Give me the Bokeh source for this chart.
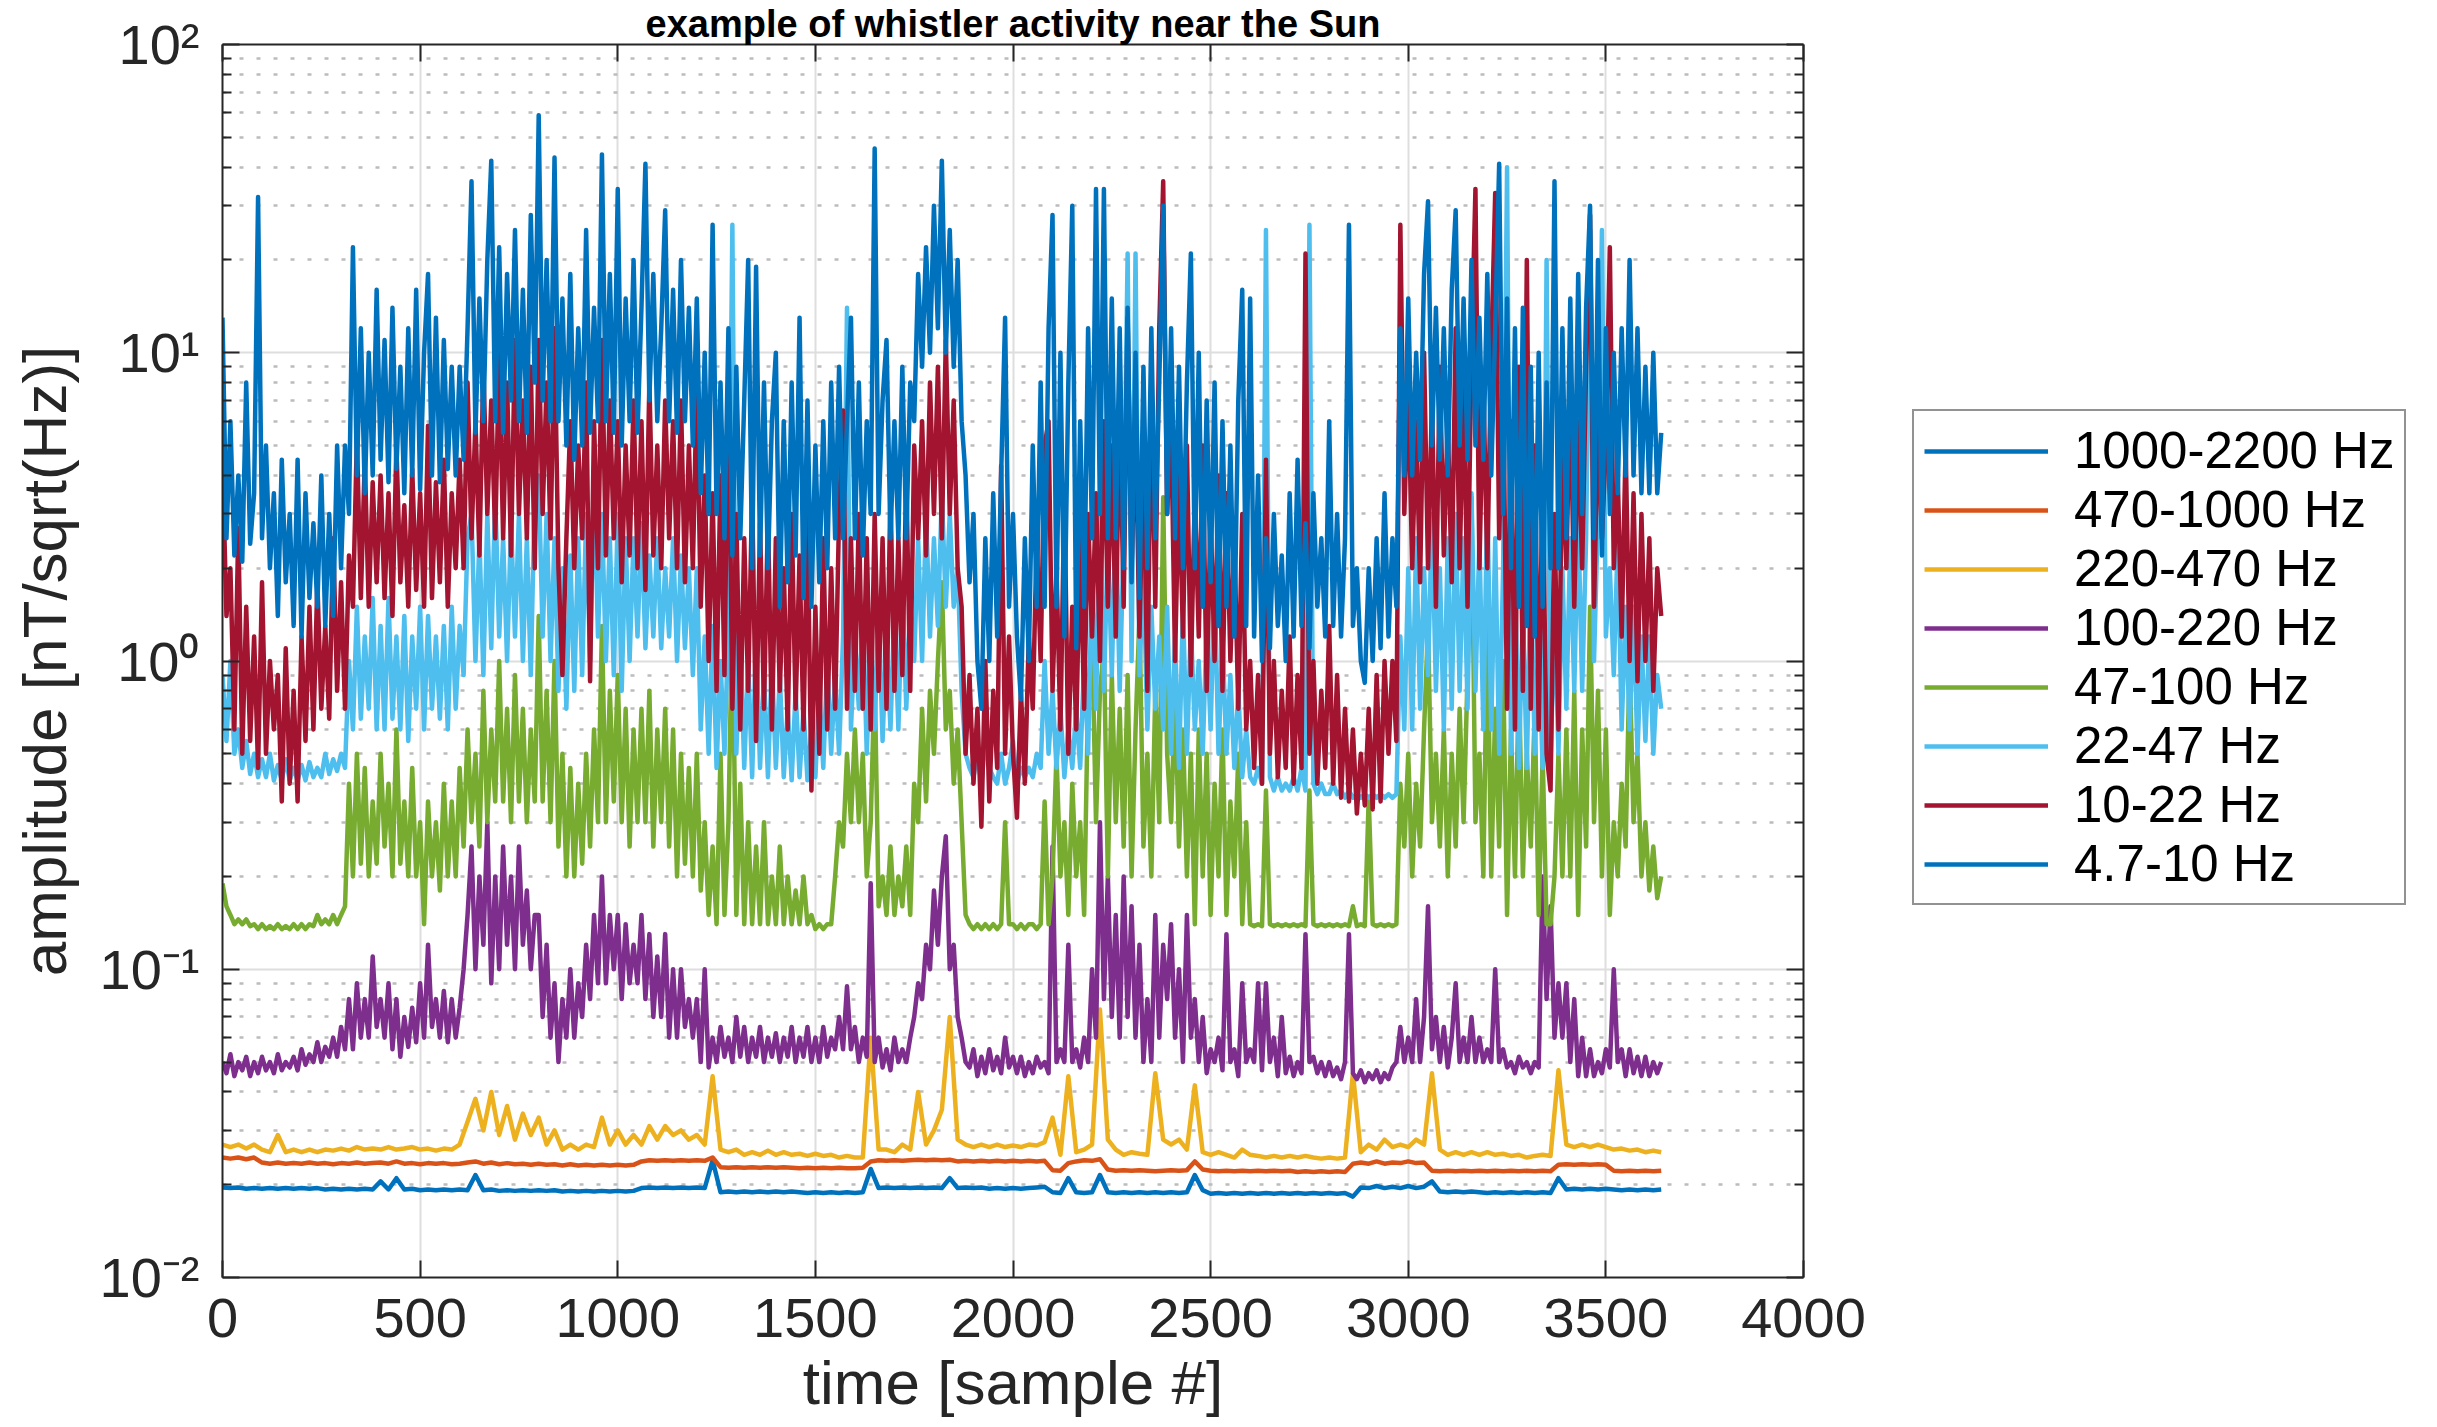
from bokeh.plotting import figure
from bokeh.layouts import row
from bokeh.models import (Range1d, LinearAxis, LogAxis, FixedTicker, Legend,
                          LegendItem, CustomJSTickFormatter)
from bokeh.embed import file_html
from bokeh.resources import INLINE

# ---------------- data ----------------
SAMPLES = list(range(0, 3641, 20))        # time [sample #] for the quiet high bands
SAMPLES_FINE = list(range(0, 3641, 10))   # time [sample #] for the busy low bands

BAND_NAMES = ["1000-2200 Hz", "470-1000 Hz", "220-470 Hz", "100-220 Hz",
              "47-100 Hz", "22-47 Hz", "10-22 Hz", "4.7-10 Hz"]

AMP_1000_2200 = [
    0.0196, 0.0195, 0.0196, 0.0194, 0.0195, 0.0194, 0.0195, 0.0194, 0.0195, 0.0194,
    0.0195, 0.0194, 0.0195, 0.0193, 0.0194, 0.0193, 0.0194, 0.0193, 0.0194, 0.0193,
    0.0205, 0.0193, 0.021, 0.0193, 0.0194, 0.0192, 0.0193, 0.0192, 0.0193, 0.0192,
    0.0193, 0.0192, 0.0215, 0.0192, 0.0193, 0.0191, 0.0192, 0.0191, 0.0192, 0.0191,
    0.0192, 0.0191, 0.0192, 0.019, 0.0191, 0.019, 0.0191, 0.019, 0.0191, 0.019,
    0.0191, 0.019, 0.0191, 0.0195, 0.0196, 0.0195, 0.0196, 0.0195, 0.0196, 0.0195,
    0.0196, 0.0195, 0.024, 0.0189, 0.019, 0.0189, 0.019, 0.0189, 0.019, 0.0189,
    0.019, 0.0189, 0.019, 0.0189, 0.0188, 0.0189, 0.0188, 0.0189, 0.0188, 0.0189,
    0.0188, 0.0189, 0.0225, 0.0195, 0.0196, 0.0195, 0.0196, 0.0195, 0.0196, 0.0195,
    0.0196, 0.0195, 0.021, 0.0195, 0.0196, 0.0195, 0.0196, 0.0194, 0.0195, 0.0194,
    0.0195, 0.0194, 0.0195, 0.0196, 0.0197, 0.0189, 0.0188, 0.021, 0.0189, 0.0188,
    0.0189, 0.0215, 0.0189, 0.0188, 0.0189, 0.0188, 0.0189, 0.0188, 0.0189, 0.0188,
    0.0189, 0.0188, 0.0189, 0.0215, 0.0192, 0.0187, 0.0188, 0.0187, 0.0188, 0.0187,
    0.0188, 0.0187, 0.0188, 0.0187, 0.0188, 0.0187, 0.0188, 0.0187, 0.0188, 0.0187,
    0.0188, 0.0187, 0.0188, 0.0183, 0.0196, 0.0195, 0.0198, 0.0195, 0.0197, 0.0195,
    0.0198, 0.0195, 0.0197, 0.0205, 0.019, 0.0189, 0.019, 0.0189, 0.019, 0.0189,
    0.0188, 0.0189, 0.0188, 0.0189, 0.0188, 0.0189, 0.0188, 0.0189, 0.0188, 0.021,
    0.0193, 0.0194, 0.0193, 0.0194, 0.0193, 0.0194, 0.0193, 0.0192, 0.0193, 0.0192,
    0.0193, 0.0192, 0.0193]

AMP_470_1000 = [
    0.0245, 0.0243, 0.0245, 0.0242, 0.0245, 0.0236, 0.0234, 0.0236, 0.0234, 0.0235,
    0.0234, 0.0236, 0.0234, 0.0235, 0.0233, 0.0235, 0.0234, 0.0236, 0.0234, 0.0235,
    0.0236, 0.0234, 0.0238, 0.0234, 0.0235, 0.0233, 0.0235, 0.0234, 0.0235, 0.0233,
    0.0234, 0.0236, 0.0238, 0.0234, 0.0236, 0.0233, 0.0235, 0.0233, 0.0234, 0.0232,
    0.0234, 0.0232, 0.0233, 0.0231, 0.0233, 0.0231, 0.0232, 0.0231, 0.0232, 0.0231,
    0.0232, 0.0231, 0.0232, 0.0238, 0.024, 0.0239, 0.024, 0.0239, 0.024, 0.0239,
    0.024, 0.0239, 0.0245, 0.0228, 0.0227, 0.0228, 0.0227, 0.0228, 0.0227, 0.0228,
    0.0227, 0.0228, 0.0227, 0.0226, 0.0227, 0.0226, 0.0227, 0.0226, 0.0227, 0.0226,
    0.0226, 0.0227, 0.0238, 0.024, 0.0239, 0.024, 0.0239, 0.024, 0.0241, 0.024,
    0.0241, 0.024, 0.0241, 0.0238, 0.0239, 0.0238, 0.0239, 0.0238, 0.0239, 0.0238,
    0.0239, 0.0238, 0.0239, 0.0238, 0.0239, 0.0223, 0.0222, 0.0235, 0.0238, 0.024,
    0.0239, 0.0242, 0.0224, 0.0222, 0.0223, 0.0222, 0.0223, 0.0222, 0.0221, 0.0222,
    0.0223, 0.0222, 0.0223, 0.0238, 0.0224, 0.0222, 0.0221, 0.0222, 0.0221, 0.0222,
    0.0221, 0.0222, 0.0221, 0.0222, 0.0221, 0.0222, 0.022, 0.0221, 0.022, 0.0221,
    0.022, 0.0221, 0.022, 0.0234, 0.0236, 0.0234, 0.0238, 0.0234, 0.0236, 0.0235,
    0.0238, 0.0235, 0.0236, 0.0222, 0.0221, 0.0222, 0.0221, 0.0222, 0.0221, 0.0222,
    0.0221, 0.0222, 0.0221, 0.0222, 0.0221, 0.0222, 0.0221, 0.0222, 0.0221, 0.0232,
    0.0233, 0.0232, 0.0233, 0.0232, 0.0233, 0.0232, 0.0222, 0.0221, 0.0222, 0.0221,
    0.0222, 0.0221, 0.0222]

AMP_220_470 = [
    0.027, 0.0265, 0.027, 0.0262, 0.027, 0.026, 0.0255, 0.029, 0.0255, 0.026,
    0.0255, 0.026, 0.0255, 0.026, 0.0258, 0.0262, 0.0258, 0.0265, 0.026, 0.0262,
    0.026, 0.0265, 0.026, 0.0262, 0.0265, 0.026, 0.0262, 0.0258, 0.0262, 0.026,
    0.027, 0.032, 0.038, 0.03, 0.04, 0.029, 0.036, 0.028, 0.034, 0.029,
    0.033, 0.027, 0.03, 0.026, 0.027, 0.026, 0.027, 0.0265, 0.033, 0.027,
    0.03, 0.027, 0.029, 0.027, 0.031, 0.028, 0.031, 0.029, 0.03, 0.028,
    0.029, 0.027, 0.045, 0.026, 0.0255, 0.026, 0.025, 0.0255, 0.025, 0.0258,
    0.025, 0.0255, 0.025, 0.0252, 0.0248, 0.0252, 0.0248, 0.025, 0.0245, 0.0248,
    0.0245, 0.0245, 0.06, 0.026, 0.026, 0.0255, 0.027, 0.026, 0.04, 0.027,
    0.03, 0.035, 0.07, 0.028, 0.027, 0.0265, 0.027, 0.0265, 0.027, 0.0265,
    0.0268, 0.0265, 0.027, 0.0268, 0.0275, 0.033, 0.025, 0.045, 0.0255, 0.026,
    0.027, 0.074, 0.028, 0.026, 0.025, 0.0255, 0.0252, 0.025, 0.046, 0.028,
    0.027, 0.028, 0.026, 0.042, 0.0255, 0.025, 0.0255, 0.025, 0.0245, 0.026,
    0.025, 0.0248, 0.0245, 0.0248, 0.0245, 0.0248, 0.0245, 0.0248, 0.0245, 0.0243,
    0.0245, 0.0243, 0.0245, 0.046, 0.0255, 0.027, 0.026, 0.028, 0.0265, 0.027,
    0.0265, 0.028, 0.027, 0.046, 0.026, 0.025, 0.0255, 0.025, 0.0255, 0.025,
    0.0255, 0.025, 0.0252, 0.0248, 0.025, 0.0245, 0.0248, 0.025, 0.0248, 0.047,
    0.027, 0.0265, 0.027, 0.0265, 0.027, 0.0265, 0.026, 0.0262, 0.0258, 0.026,
    0.0255, 0.0258, 0.0255]

AMP_100_220 = [
    0.05, 0.046, 0.053, 0.045, 0.05, 0.047, 0.052, 0.045, 0.05, 0.046, 0.052, 0.047, 0.05, 0.046, 0.053, 0.047, 0.05, 0.048, 0.052, 0.047,
    0.055, 0.049, 0.053, 0.05, 0.058, 0.05, 0.056, 0.052, 0.06, 0.052, 0.065, 0.055, 0.08, 0.055, 0.09, 0.06, 0.08, 0.06, 0.11, 0.065,
    0.08, 0.06, 0.09, 0.055, 0.08, 0.052, 0.07, 0.056, 0.075, 0.058, 0.09, 0.06, 0.12, 0.065, 0.08, 0.06, 0.085, 0.058, 0.08, 0.06,
    0.075, 0.1, 0.15, 0.25, 0.1, 0.2, 0.12, 0.3, 0.09, 0.2, 0.1, 0.25, 0.12, 0.2, 0.1, 0.25, 0.12, 0.18, 0.1, 0.15,
    0.15, 0.07, 0.12, 0.06, 0.09, 0.05, 0.08, 0.06, 0.1, 0.06, 0.09, 0.07, 0.12, 0.08, 0.15, 0.09, 0.2, 0.09, 0.15, 0.1,
    0.15, 0.08, 0.14, 0.09, 0.12, 0.09, 0.15, 0.08, 0.13, 0.07, 0.11, 0.07, 0.13, 0.06, 0.1, 0.06, 0.1, 0.065, 0.08, 0.06,
    0.08, 0.05, 0.1, 0.048, 0.06, 0.05, 0.065, 0.052, 0.06, 0.05, 0.07, 0.052, 0.065, 0.05, 0.06, 0.052, 0.065, 0.05, 0.06, 0.052,
    0.062, 0.05, 0.06, 0.052, 0.065, 0.05, 0.06, 0.052, 0.065, 0.05, 0.06, 0.05, 0.065, 0.052, 0.06, 0.055, 0.07, 0.055, 0.088, 0.055,
    0.065, 0.05, 0.06, 0.052, 0.19, 0.05, 0.06, 0.048, 0.055, 0.047, 0.06, 0.05, 0.055, 0.05, 0.06, 0.07, 0.09, 0.08, 0.12, 0.1,
    0.18, 0.12, 0.2, 0.27, 0.1, 0.12, 0.07, 0.06, 0.05, 0.048, 0.055, 0.045, 0.052, 0.046, 0.055, 0.047, 0.052, 0.046, 0.06, 0.048,
    0.052, 0.046, 0.052, 0.045, 0.05, 0.046, 0.052, 0.048, 0.05, 0.046, 0.25, 0.05, 0.055, 0.05, 0.12, 0.05, 0.055, 0.048, 0.06, 0.05,
    0.1, 0.06, 0.3, 0.08, 0.2, 0.07, 0.15, 0.06, 0.2, 0.07, 0.16, 0.06, 0.12, 0.05, 0.08, 0.05, 0.15, 0.06, 0.12, 0.08,
    0.14, 0.06, 0.1, 0.05, 0.15, 0.06, 0.08, 0.05, 0.07, 0.046, 0.055, 0.05, 0.06, 0.047, 0.13, 0.05, 0.055, 0.045, 0.09, 0.05,
    0.055, 0.05, 0.09, 0.047, 0.09, 0.05, 0.06, 0.045, 0.07, 0.046, 0.052, 0.045, 0.05, 0.046, 0.13, 0.05, 0.052, 0.046, 0.05, 0.045,
    0.05, 0.045, 0.048, 0.044, 0.05, 0.13, 0.046, 0.044, 0.047, 0.043, 0.046, 0.044, 0.047, 0.043, 0.046, 0.044, 0.048, 0.05, 0.065, 0.05,
    0.06, 0.05, 0.08, 0.05, 0.07, 0.16, 0.055, 0.07, 0.05, 0.065, 0.048, 0.06, 0.09, 0.05, 0.06, 0.05, 0.07, 0.05, 0.06, 0.05,
    0.055, 0.05, 0.1, 0.05, 0.055, 0.048, 0.05, 0.046, 0.052, 0.048, 0.05, 0.046, 0.05, 0.048, 0.2, 0.08, 0.16, 0.06, 0.09, 0.06,
    0.09, 0.05, 0.08, 0.045, 0.06, 0.045, 0.055, 0.045, 0.05, 0.046, 0.055, 0.048, 0.1, 0.05, 0.055, 0.045, 0.055, 0.046, 0.052, 0.045,
    0.052, 0.045, 0.05, 0.046, 0.05]

AMP_47_100 = [
    0.19, 0.16, 0.15, 0.14, 0.145, 0.14, 0.145, 0.138, 0.14, 0.135, 0.14, 0.135, 0.138, 0.135, 0.14, 0.135, 0.138, 0.135, 0.14, 0.135,
    0.14, 0.135, 0.14, 0.138, 0.15, 0.14, 0.145, 0.14, 0.15, 0.14, 0.15, 0.16, 0.4, 0.2, 0.5, 0.22, 0.45, 0.2, 0.35, 0.22,
    0.5, 0.25, 0.4, 0.2, 0.6, 0.22, 0.35, 0.2, 0.45, 0.2, 0.3, 0.14, 0.35, 0.2, 0.3, 0.18, 0.4, 0.2, 0.35, 0.2,
    0.45, 0.25, 0.6, 0.3, 0.5, 0.25, 0.8, 0.3, 0.6, 0.35, 1.0, 0.35, 0.7, 0.3, 0.9, 0.35, 0.7, 0.3, 0.6, 0.35,
    1.4, 0.35, 0.8, 0.3, 1.0, 0.25, 0.5, 0.2, 0.45, 0.2, 0.4, 0.22, 0.5, 0.25, 0.6, 0.3, 1.3, 0.3, 0.8, 0.35,
    0.9, 0.3, 0.7, 0.25, 0.6, 0.3, 0.7, 0.3, 0.8, 0.25, 0.6, 0.3, 0.7, 0.25, 0.6, 0.2, 0.5, 0.22, 0.45, 0.2,
    0.5, 0.18, 0.3, 0.15, 0.25, 0.14, 0.5, 0.15, 0.3, 1.5, 0.15, 0.4, 0.14, 0.3, 0.14, 0.25, 0.14, 0.3, 0.14, 0.2,
    0.14, 0.25, 0.14, 0.2, 0.14, 0.18, 0.14, 0.2, 0.14, 0.15, 0.135, 0.14, 0.135, 0.14, 0.14, 0.2, 0.3, 0.25, 0.5, 0.3,
    0.6, 0.3, 0.5, 0.2, 0.3, 0.9, 0.16, 0.2, 0.15, 0.25, 0.15, 0.2, 0.16, 0.25, 0.15, 0.4, 0.3, 0.7, 0.35, 0.8,
    0.5, 1.0, 1.8, 0.6, 0.8, 0.4, 0.6, 0.3, 0.15, 0.14, 0.135, 0.14, 0.135, 0.14, 0.135, 0.14, 0.135, 0.14, 0.3, 0.14,
    0.14, 0.135, 0.14, 0.135, 0.14, 0.14, 0.135, 0.14, 0.35, 0.14, 0.2, 0.5, 0.2, 0.3, 0.15, 0.4, 0.2, 0.3, 0.15, 0.8,
    1.2, 0.3, 0.8, 1.1, 0.2, 0.9, 0.3, 0.7, 0.25, 0.9, 0.2, 0.6, 1.4, 0.25, 0.5, 0.2, 0.8, 0.3, 3.4, 0.5,
    0.3, 0.8, 0.25, 0.6, 0.2, 0.5, 0.14, 0.6, 0.2, 0.5, 0.15, 0.4, 0.2, 0.6, 0.15, 0.35, 0.2, 0.5, 0.14, 0.3,
    0.14, 0.138, 0.14, 0.138, 0.38, 0.14, 0.138, 0.14, 0.138, 0.14, 0.138, 0.14, 0.138, 0.14, 0.138, 0.38, 0.14, 0.138, 0.14, 0.138,
    0.14, 0.138, 0.14, 0.138, 0.14, 0.138, 0.16, 0.138, 0.14, 0.138, 0.36, 0.14, 0.138, 0.14, 0.138, 0.14, 0.138, 0.14, 0.4, 0.25,
    0.5, 0.2, 0.4, 0.25, 0.6, 1.3, 0.3, 0.5, 0.25, 0.6, 0.2, 0.5, 0.25, 0.7, 0.3, 0.9, 3.4, 0.3, 0.5, 0.2,
    1.4, 0.2, 0.7, 0.25, 1.0, 0.15, 0.6, 0.2, 0.9, 0.2, 0.5, 0.25, 0.7, 0.15, 0.5, 0.14, 0.14, 0.2, 0.5, 0.2,
    0.6, 0.2, 0.8, 0.15, 0.6, 0.25, 1.5, 0.3, 0.8, 0.2, 0.6, 0.15, 0.3, 0.2, 0.4, 0.25, 1.0, 0.3, 0.5, 0.2,
    0.3, 0.18, 0.25, 0.17, 0.2]

AMP_22_47 = [
    0.9, 0.55, 1.0, 0.5, 0.6, 0.45, 0.55, 0.43, 0.5, 0.42, 0.48, 0.42, 0.5, 0.41, 0.46, 0.41, 0.48, 0.41, 0.45, 0.41,
    0.46, 0.41, 0.47, 0.42, 0.45, 0.42, 0.5, 0.43, 0.48, 0.44, 0.5, 0.45, 1.0, 0.6, 1.5, 0.65, 1.2, 0.7, 1.6, 0.6,
    1.3, 0.6, 1.6, 0.65, 1.2, 0.6, 1.4, 0.55, 1.2, 0.7, 1.5, 0.6, 1.4, 0.7, 1.2, 0.65, 1.3, 0.6, 1.5, 0.7,
    1.3, 0.9, 2.5, 3.0, 1.0, 2.5, 0.9, 3.0, 1.1, 3.5, 1.2, 2.5, 1.0, 2.8, 1.2, 3.0, 1.0, 2.5, 0.9, 3.5,
    4.0, 1.2, 3.0, 1.0, 2.5, 0.8, 2.0, 0.7, 2.2, 0.8, 2.5, 0.9, 3.0, 1.0, 4.0, 1.2, 3.0, 1.0, 2.5, 0.9,
    3.0, 0.8, 2.5, 1.0, 2.5, 1.2, 2.8, 1.1, 2.2, 1.2, 2.5, 1.1, 2.0, 1.2, 2.5, 1.0, 2.2, 1.1, 2.0, 0.9,
    2.0, 0.6, 1.2, 0.5, 1.3, 0.45, 1.0, 0.5, 1.3, 26, 0.5, 1.2, 0.45, 1.0, 0.42, 1.2, 0.45, 0.9, 0.42, 1.0,
    0.45, 0.9, 0.42, 0.7, 0.41, 0.8, 0.42, 0.7, 0.41, 0.6, 0.42, 0.8, 0.45, 1.0, 0.5, 0.9, 0.5, 1.2, 14, 0.6,
    1.2, 0.7, 1.5, 0.5, 1.2, 0.6, 1.5, 0.55, 1.2, 0.6, 1.5, 0.6, 1.8, 0.7, 1.5, 1.0, 2.5, 1.0, 3.0, 1.2,
    2.5, 1.3, 3.5, 1.5, 3.0, 1.5, 2.0, 0.8, 0.5, 0.45, 0.42, 0.5, 0.4, 0.55, 0.45, 0.42, 0.4, 0.5, 0.4, 0.45,
    0.55, 0.4, 0.45, 0.42, 0.45, 0.42, 0.5, 0.45, 1.0, 0.5, 0.8, 0.45, 0.7, 0.42, 0.6, 0.45, 0.7, 0.45, 1.0, 0.5,
    2.0, 0.7, 3.0, 0.8, 2.5, 0.9, 3.0, 0.8, 2.5, 21, 1.0, 21, 0.9, 2.0, 0.6, 1.5, 0.7, 1.2, 0.6, 1.5,
    0.5, 1.2, 0.45, 1.5, 0.5, 1.3, 0.6, 1.0, 0.5, 1.3, 0.6, 1.8, 0.5, 1.2, 0.5, 0.9, 0.45, 0.8, 0.42, 0.6,
    0.42, 0.4, 0.45, 0.4, 25, 0.42, 0.38, 0.42, 0.38, 0.4, 0.38, 0.42, 0.38, 0.45, 0.38, 26, 0.4, 0.37, 0.4, 0.37,
    0.37, 0.4, 0.37, 0.38, 0.36, 0.38, 0.36, 0.37, 0.36, 0.37, 0.36, 0.37, 0.36, 0.37, 0.36, 0.37, 0.36, 0.37, 1.2, 0.6,
    2.0, 0.6, 2.5, 0.7, 2.0, 0.9, 3.0, 0.8, 2.0, 0.6, 2.5, 0.7, 3.0, 0.8, 2.5, 0.7, 3.5, 0.8, 2.5, 0.6,
    3.5, 0.6, 2.5, 0.5, 2.0, 40, 0.5, 2.0, 0.45, 1.5, 0.45, 2.0, 0.5, 1.2, 0.45, 20, 0.45, 1.5, 0.5, 2.0,
    0.7, 2.5, 0.8, 3.0, 0.8, 2.5, 25, 1.0, 3.0, 25, 1.2, 2.0, 0.9, 2.5, 0.6, 1.5, 0.6, 1.5, 0.5, 1.2,
    0.55, 1.2, 0.5, 0.9, 0.7]

AMP_10_22 = [
    4.5, 1.4, 2.0, 0.6, 2.7, 0.5, 1.5, 0.55, 1.2, 0.45, 1.8, 0.5, 1.0, 0.6, 0.9, 0.35, 1.1, 0.4, 0.8, 0.35,
    1.2, 0.55, 1.5, 0.6, 1.8, 0.7, 1.3, 0.65, 2.5, 0.8, 1.8, 0.7, 2.2, 1.5, 5.3, 1.6, 4.5, 1.5, 3.8, 1.8,
    4.0, 1.6, 3.5, 1.4, 5.0, 1.8, 3.2, 1.5, 4.2, 1.7, 3.5, 1.5, 5.8, 1.6, 3.8, 1.8, 4.5, 1.5, 3.5, 2.0,
    4.5, 2.0, 8.0, 2.5, 6.0, 2.2, 9.0, 3.0, 7.0, 2.5, 10, 2.5, 8.0, 2.2, 11, 3.0, 7.0, 2.5, 9.0, 2.0,
    11, 3.0, 8.0, 2.5, 12, 2.0, 0.9, 2.5, 6.0, 2.0, 5.0, 2.5, 8.0, 0.86, 6.0, 2.0, 11, 2.2, 7.0, 2.5,
    6.0, 1.8, 5.0, 2.2, 7.0, 2.0, 6.0, 1.7, 8.0, 2.2, 5.0, 2.0, 7.0, 2.5, 6.0, 2.0, 7.0, 1.8, 5.0, 2.0,
    8.0, 1.5, 4.0, 1.0, 3.5, 0.8, 4.0, 0.9, 9.0, 0.7, 3.0, 0.6, 2.5, 0.8, 3.5, 0.55, 2.8, 0.7, 3.0, 0.6,
    2.5, 0.8, 2.0, 0.6, 3.0, 0.7, 2.2, 0.6, 3.0, 0.38, 1.5, 0.5, 2.5, 0.6, 2.0, 0.7, 3.0, 6.5, 0.7, 2.5,
    0.8, 3.0, 0.7, 2.5, 0.6, 3.0, 0.8, 2.5, 0.7, 3.5, 0.8, 2.5, 0.9, 4.0, 0.8, 5.0, 2.5, 6.0, 2.2, 8.0,
    3.0, 9.0, 2.5, 11, 3.0, 7.0, 2.0, 1.5, 0.5, 0.9, 0.4, 0.7, 0.29, 1.0, 0.35, 0.8, 0.45, 4.3, 0.5, 1.2,
    0.5, 0.31, 0.8, 0.4, 1.2, 0.7, 2.5, 1.0, 5.0, 6.0, 0.8, 2.0, 0.6, 3.5, 0.5, 1.5, 0.6, 2.5, 0.7, 3.0,
    1.2, 3.5, 1.0, 6.0, 1.5, 5.0, 1.2, 7.0, 1.5, 13, 2.0, 6.0, 1.2, 5.0, 0.8, 8.0, 1.5, 12, 36, 3.0,
    6.0, 1.0, 4.0, 1.2, 5.0, 0.9, 3.5, 1.2, 5.0, 0.8, 3.0, 1.0, 4.0, 0.8, 3.5, 1.0, 2.5, 0.7, 3.0, 0.6,
    1.0, 0.45, 0.9, 0.4, 4.5, 0.5, 1.0, 0.42, 0.8, 0.45, 1.2, 0.4, 0.9, 0.45, 21, 0.5, 1.0, 0.4, 0.8, 0.45,
    1.3, 0.4, 0.9, 0.36, 0.7, 0.35, 0.6, 0.32, 0.5, 0.34, 0.7, 0.33, 0.9, 0.35, 1.0, 0.5, 1.0, 0.55, 26, 3.0,
    8.0, 2.0, 6.0, 1.8, 10, 2.0, 7.0, 1.5, 9.0, 2.2, 6.0, 1.8, 12, 2.0, 8.0, 1.5, 10, 34, 2.0, 8.0,
    2.0, 10, 33, 2.5, 8.0, 0.7, 6.0, 0.6, 9.0, 0.8, 20, 0.7, 5.0, 0.6, 4.0, 0.5, 0.38, 3.0, 0.6, 5.0,
    2.0, 8.0, 1.5, 6.0, 2.0, 9.0, 28, 1.5, 6.0, 2.5, 5.0, 22, 2.0, 4.0, 1.2, 5.0, 1.0, 3.5, 0.86, 3.0,
    1.0, 2.5, 0.8, 2.0, 1.4]

AMP_4_7_10 = [
    13, 2.5, 6.0, 2.2, 4.0, 2.1, 8.0, 2.4, 3.5, 32, 2.5, 5.0, 2.0, 3.5, 1.4, 4.5, 1.8, 3.0, 1.3, 4.5,
    1.2, 3.5, 1.6, 2.8, 1.5, 4.0, 1.3, 3.0, 1.4, 5.0, 2.0, 5.0, 3.0, 22, 4.0, 12, 3.5, 10, 4.0, 16,
    4.5, 11, 3.8, 14, 4.2, 9.0, 3.5, 12, 4.0, 16, 3.6, 10, 18, 4.0, 13, 3.8, 11, 4.2, 9.0, 4.0,
    9.0, 4.5, 12, 36, 5.5, 15, 6.0, 20, 42, 6.0, 22, 5.5, 18, 7.0, 25, 6.0, 16, 5.5, 28, 8.0,
    59, 7.0, 20, 6.0, 43, 6.0, 15, 5.0, 18, 4.5, 12, 5.0, 25, 5.5, 14, 6.0, 44, 6.0, 18, 5.5,
    34, 5.0, 15, 6.0, 20, 5.5, 14, 41, 7.0, 18, 6.0, 12, 29, 6.0, 16, 5.5, 20, 6.0, 14, 5.0,
    15, 3.5, 10, 3.0, 26, 3.0, 8.0, 2.5, 12, 2.2, 9.0, 2.5, 7.0, 20, 2.0, 19, 2.2, 8.0, 2.0, 6.0,
    10, 1.5, 6.0, 1.8, 8.0, 2.2, 13, 1.6, 7.0, 1.5, 5.0, 1.8, 6.0, 2.0, 8.0, 2.5, 9.0, 2.5, 6.0, 13,
    2.5, 8.0, 2.2, 6.0, 3.0, 46, 3.0, 7.0, 11, 2.5, 6.0, 2.5, 9.0, 2.5, 8.0, 6.0, 18, 9.0, 22, 10,
    30, 12, 42, 10, 25, 9.0, 20, 6.0, 4.0, 1.8, 3.0, 1.0, 0.7, 2.5, 1.0, 3.5, 1.2, 4.0, 13, 1.5,
    3.0, 1.2, 0.75, 2.5, 1.0, 5.0, 1.5, 8.0, 1.5, 12, 28, 1.5, 10, 1.2, 8.0, 30, 1.1, 6.0, 1.5, 12,
    2.5, 34, 3.0, 34, 2.5, 15, 2.5, 12, 2.0, 14, 1.8, 10, 1.6, 9.0, 2.0, 12, 2.5, 8.0, 30, 3.0,
    12, 2.5, 9.0, 2.0, 8.0, 21, 2.0, 10, 1.5, 7.0, 1.8, 8.0, 1.3, 6.0, 1.5, 5.0, 1.2, 7.0, 16, 1.3,
    15, 1.2, 4.0, 1.0, 2.5, 1.1, 3.0, 1.3, 2.2, 1.0, 3.5, 1.2, 4.5, 1.3, 2.8, 1.1, 3.5, 1.5, 2.5, 1.2,
    6.0, 1.3, 3.0, 1.2, 2.5, 26, 1.3, 2.0, 1.0, 0.85, 2.0, 1.0, 2.5, 1.1, 3.5, 1.2, 2.5, 1.5, 12, 4.0,
    15, 4.0, 10, 4.5, 18, 31, 5.0, 14, 4.5, 12, 4.0, 16, 29, 5.0, 15, 4.5, 20, 5.0, 13, 4.5,
    18, 4.0, 12, 41, 3.0, 15, 2.0, 12, 1.5, 14, 1.3, 9.0, 1.2, 10, 1.5, 8.0, 2.0, 36, 2.0, 12,
    2.5, 15, 2.5, 18, 3.0, 14, 30, 2.5, 20, 2.2, 12, 3.0, 10, 3.5, 12, 4.0, 20, 4.0, 12, 3.5,
    9.0, 3.5, 10, 3.5, 5.5]

SERIES_X = [SAMPLES, SAMPLES, SAMPLES, SAMPLES_FINE,
            SAMPLES_FINE, SAMPLES_FINE, SAMPLES_FINE, SAMPLES_FINE]
SERIES = [AMP_1000_2200, AMP_470_1000, AMP_220_470, AMP_100_220,
          AMP_47_100, AMP_22_47, AMP_10_22, AMP_4_7_10]
COLORS = ["#0072BD", "#D95319", "#EDB120", "#7E2F8E",
          "#77AC30", "#4DBEEE", "#A2142F", "#0072BD"]

X_TICKS = [0, 500, 1000, 1500, 2000, 2500, 3000, 3500, 4000]
Y_TICKS = [0.01, 0.1, 1, 10, 100]
Y_TICK_LABELS = ["10\u207b\u00b2", "10\u207b\u00b9", "10\u2070", "10\u00b9", "10\u00b2"]

TITLE = "example of whistler activity near the Sun"
X_LABEL = "time [sample #]"
Y_LABEL = "amplitude [nT/sqrt(Hz)]"

# ---------------- layout ----------------
FONT = "Liberation Sans"
AX = "#262626"
TOTAL_W, TOTAL_H = 2437, 1427
MAIN_W = 1880                 # main plot canvas (frame spans 222 .. 1803)
SIDE_W = TOTAL_W - MAIN_W     # canvas that carries the legend
LINE_W = 4.5

p = figure(width=MAIN_W, height=TOTAL_H, output_backend="svg", toolbar_location=None,
           x_range=Range1d(0, 4000), y_range=Range1d(0.01, 100), y_axis_type="log",
           min_border_left=222, min_border_right=MAIN_W - 1803,
           min_border_top=44, min_border_bottom=150,
           background_fill_color="white", border_fill_color="white")
p.outline_line_color = None

p.title.text = TITLE
p.title.text_font = FONT
p.title.text_font_size = "38px"
p.title.text_font_style = "bold"
p.title.text_color = "black"
p.title.align = "center"
p.title.standoff = 0

minor = [k * 10.0 ** e for e in range(-2, 2) for k in range(2, 10)]
xt = FixedTicker(ticks=X_TICKS)
yt = FixedTicker(ticks=Y_TICKS, minor_ticks=minor)
blank = CustomJSTickFormatter(code="return ''")
ylab = CustomJSTickFormatter(args=dict(tvals=Y_TICKS, tlabels=Y_TICK_LABELS), code="""
    let best = 0;
    for (let i = 0; i < tvals.length; i++) {
        if (Math.abs(Math.log10(tvals[i]) - Math.log10(tick)) <
            Math.abs(Math.log10(tvals[best]) - Math.log10(tick))) { best = i; }
    }
    return tlabels[best];
""")

xa = p.xaxis[0]
xa.ticker = xt
xa.major_label_text_font = FONT
xa.major_label_text_font_size = "56px"
xa.major_label_text_color = AX
xa.major_label_standoff = 21
xa.major_tick_in = 17
xa.major_tick_out = 0
xa.minor_tick_line_color = None
xa.axis_line_color = AX
xa.axis_line_width = 2
xa.major_tick_line_color = AX
xa.major_tick_line_width = 2
xa.axis_label = X_LABEL
xa.axis_label_text_font = FONT
xa.axis_label_text_font_size = "62px"
xa.axis_label_text_font_style = "normal"
xa.axis_label_text_color = AX
xa.axis_label_standoff = 8

ya = p.yaxis[0]
ya.ticker = yt
ya.formatter = ylab
ya.major_label_text_font = FONT
ya.major_label_text_font_size = "56px"
ya.major_label_text_color = AX
ya.major_label_standoff = 23
ya.major_tick_in = 17
ya.major_tick_out = 0
ya.minor_tick_in = 9
ya.minor_tick_out = 0
ya.axis_line_color = AX
ya.axis_line_width = 2
ya.major_tick_line_color = AX
ya.major_tick_line_width = 2
ya.minor_tick_line_color = AX
ya.minor_tick_line_width = 2
ya.axis_label = Y_LABEL
ya.axis_label_text_font = FONT
ya.axis_label_text_font_size = "62px"
ya.axis_label_text_font_style = "normal"
ya.axis_label_text_color = AX
ya.axis_label_standoff = 18

top_axis = LinearAxis(ticker=xt, formatter=blank, major_label_text_font_size="1px",
                      major_label_standoff=0, major_tick_in=17, major_tick_out=0,
                      minor_tick_line_color=None, axis_line_color=AX, axis_line_width=2,
                      major_tick_line_color=AX, major_tick_line_width=2)
p.add_layout(top_axis, "above")
right_axis = LogAxis(ticker=yt, formatter=blank, major_label_text_font_size="1px",
                     major_label_standoff=0, major_tick_in=17, major_tick_out=0,
                     minor_tick_in=9, minor_tick_out=0, axis_line_color=AX,
                     axis_line_width=2, major_tick_line_color=AX, major_tick_line_width=2,
                     minor_tick_line_color=AX, minor_tick_line_width=2)
p.add_layout(right_axis, "right")

p.xgrid.ticker = xt
p.ygrid.ticker = yt
p.xgrid.grid_line_color = "#dedede"
p.xgrid.grid_line_width = 2
p.ygrid.grid_line_color = "#dedede"
p.ygrid.grid_line_width = 2
p.ygrid.minor_grid_line_color = "#bcbcbc"
p.ygrid.minor_grid_line_width = 2.5
p.ygrid.minor_grid_line_dash = "4 13"

for xs, vals, col in zip(SERIES_X, SERIES, COLORS):
    p.line(xs, vals, line_color=col, line_width=LINE_W, line_join="round")

# ---------------- legend canvas ----------------
# its range lies beside the data, so the key lines that carry the legend stay out of view
side = figure(width=SIDE_W, height=TOTAL_H, output_backend="svg", toolbar_location=None,
              x_range=Range1d(-2, -1), y_range=Range1d(0, 1),
              x_axis_location=None, y_axis_location=None,
              min_border_left=0, min_border_right=0, min_border_top=0, min_border_bottom=0,
              background_fill_color="white", border_fill_color="white")
side.outline_line_color = None
side.grid.visible = False

keys = [side.line(xs[:2], vals[:2], line_color=col, line_width=LINE_W)
        for xs, vals, col in zip(SERIES_X, SERIES, COLORS)]
legend = Legend(items=[LegendItem(label=n, renderers=[r]) for n, r in zip(BAND_NAMES, keys)],
                location=(1912 - MAIN_W, 1277 - 905))
legend.label_text_font = FONT
legend.label_text_font_size = "51px"
legend.label_text_color = "black"
legend.label_height = 58
legend.glyph_height = 58
legend.glyph_width = 124
legend.label_standoff = 26
legend.padding = 10
legend.spacing = 0
legend.margin = 0
legend.border_line_color = AX
legend.border_line_width = 2
legend.background_fill_color = "white"
legend.background_fill_alpha = 1.0
side.add_layout(legend)

layout = row(p, side, spacing=0)
open("out.html", "w").write(file_html(layout, INLINE))
